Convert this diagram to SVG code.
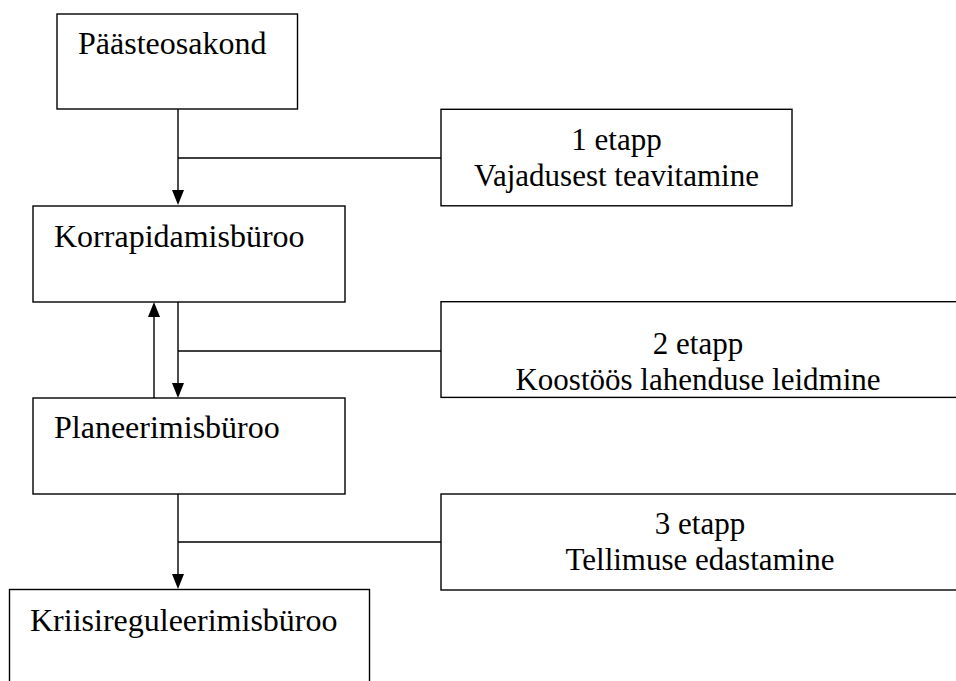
<svg xmlns="http://www.w3.org/2000/svg" width="956" height="681" viewBox="0 0 956 681">
<style>
.box{fill:#fff;stroke:#000;stroke-width:1.4}
.ln{fill:none;stroke:#000;stroke-width:1.4}
.ah{fill:#000;stroke:none}
.t{font-family:"Liberation Serif","Times New Roman",serif;font-size:32px;fill:#000}
.s{font-family:"Liberation Serif","Times New Roman",serif;font-size:31px;fill:#000;text-anchor:middle}
</style>
<rect width="956" height="681" fill="#fff"/>
<g id="connectors">
<line class="ln" x1="178" y1="109" x2="178" y2="192"/>
<polygon class="ah" points="172,190 184,190 178,205"/>
<line class="ln" x1="178" y1="158" x2="441" y2="158"/>
<line class="ln" x1="178" y1="302" x2="178" y2="385"/>
<polygon class="ah" points="172,383 184,383 178,398"/>
<line class="ln" x1="154" y1="398" x2="154" y2="315"/>
<polygon class="ah" points="148,317 160,317 154,302"/>
<line class="ln" x1="178" y1="351" x2="441" y2="351"/>
<line class="ln" x1="178" y1="494" x2="178" y2="576"/>
<polygon class="ah" points="172,574 184,574 178,589"/>
<line class="ln" x1="178" y1="542" x2="441" y2="542"/>
</g>
<g id="n1">
<rect class="box" x="57" y="14" width="240.5" height="95"/>
<text class="t" x="78" y="54">Päästeosakond</text>
</g>
<g id="s1">
<rect class="box" x="441" y="109.3" width="351" height="96.5"/>
<text class="s" x="616.5" y="150">1 etapp</text>
<text class="s" x="616.5" y="185.5">Vajadusest teavitamine</text>
</g>
<g id="n2">
<rect class="box" x="33" y="206" width="312" height="96"/>
<text class="t" x="54" y="246.5">Korrapidamisbüroo</text>
</g>
<g id="s2">
<rect class="box" x="441" y="301.7" width="530" height="95.7"/>
<text class="s" x="698" y="354">2 etapp</text>
<text class="s" x="698" y="389.5">Koostöös lahenduse leidmine</text>
</g>
<g id="n3">
<rect class="box" x="33" y="398" width="312" height="96"/>
<text class="t" x="54" y="438">Planeerimisbüroo</text>
</g>
<g id="s3">
<rect class="box" x="441" y="494" width="530" height="96"/>
<text class="s" x="700" y="534.3">3 etapp</text>
<text class="s" x="700" y="570">Tellimuse edastamine</text>
</g>
<g id="n4">
<rect class="box" x="9.5" y="589.5" width="360" height="110"/>
<text class="t" x="30" y="630.5">Kriisireguleerimisbüroo</text>
</g>
</svg>
